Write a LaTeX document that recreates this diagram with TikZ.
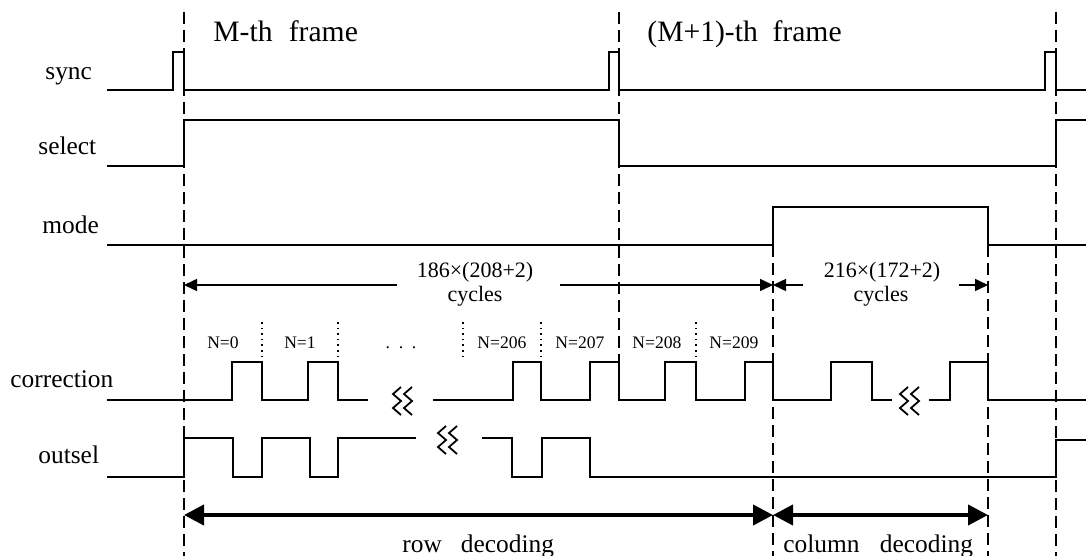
\documentclass[tikz,border=0pt]{standalone}
\usepackage{fontspec}
\setmainfont{Liberation Serif}
\usetikzlibrary{arrows.meta}
\begin{document}
\begin{tikzpicture}[x=0.5pt,y=-0.5pt,
  sig/.style={line width=1.2pt, line join=miter},
  sigb/.style={line width=1.4pt, line join=miter},
  dsh/.style={line width=0.7pt, dash pattern=on 6pt off 3pt},
  dots/.style={line width=0.8pt, dash pattern=on 0.8pt off 2pt},
  dimarr/.style={line width=0.8pt, -{Triangle[length=6.5pt,width=6pt]}},
  bigarr/.style={line width=2pt, {Triangle[length=10pt,width=10pt]}-{Triangle[length=10pt,width=10pt]}},
  sq/.style={line width=0.9pt},
  lbl/.style={anchor=base west, inner sep=0pt, font=\fontsize{12.7}{14}\selectfont},
  frm/.style={anchor=base west, inner sep=0pt, font=\fontsize{14.8}{17}\selectfont},
  cyc/.style={anchor=base, inner sep=0pt, font=\fontsize{11}{13}\selectfont},
  nlb/.style={anchor=base, inner sep=0pt, font=\fontsize{8.8}{10}\selectfont},
  squig/.pic={
    \draw[sq] (4,-14) -- (-4,-7) -- (4,0) -- (-4,7) -- (4,14);
    \draw[sq] (15,-14) -- (7,-7) -- (15,0) -- (7,7) -- (15,14);
  }]
\useasboundingbox (0,0) rectangle (1086,556);

% dashed frame / phase boundaries
\coordinate (d1t) at (184,12);  \coordinate (d1b) at (184,556);
\coordinate (d2t) at (619,12);  \coordinate (d2b) at (619,400);
\coordinate (d3t) at (773,245); \coordinate (d3b) at (773,556);
\coordinate (d4t) at (988,245); \coordinate (d4b) at (988,556);
\coordinate (d5t) at (1056,12); \coordinate (d5b) at (1056,556);
\draw[dsh] (d1t) -- (d1b);
\draw[dsh] (d2t) -- (d2b);
\draw[dsh] (d3t) -- (d3b);
\draw[dsh] (d4t) -- (d4b);
\draw[dsh] (d5t) -- (d5b);

% frame titles
\node[frm] (fm) at (213,42) {M-th\hspace{0.55em}frame};
\node[frm] (fm1) at (647,42) {(M+1)-th\hspace{0.5em}frame};

% signal names
\node[lbl] (lsync) at (45,80) {sync};
\node[lbl] (lsel) at (38,155) {select};
\node[lbl] (lmode) at (42,233) {mode};
\node[lbl] (lcor) at (10,387) {correction};
\node[lbl] (lout) at (38,463) {outsel};

% sync
\draw[sig] (107,90) -- (173,90) -- (173,52) -- (184,52) -- (184,90) -- (609,90)
  -- (609,52) -- (619,52) -- (619,90) -- (1045,90) -- (1045,52) -- (1056,52)
  -- (1056,90) -- (1086,90);
% select
\draw[sig] (107,166) -- (184,166) -- (184,120) -- (619,120) -- (619,166)
  -- (1056,166) -- (1056,120) -- (1086,120);
% mode
\draw[sig] (107,245) -- (773,245) -- (773,207) -- (988,207) -- (988,245) -- (1086,245);

% cycle counts
\coordinate (a1s) at (397,285); \coordinate (a1e) at (184,285);
\coordinate (a2s) at (560,285); \coordinate (a2e) at (773,285);
\coordinate (a3s) at (803,285); \coordinate (a3e) at (773,285);
\coordinate (a4s) at (959,285); \coordinate (a4e) at (988,285);
\draw[dimarr] (a1s) -- (a1e);
\draw[dimarr] (a2s) -- (a2e);
\draw[dimarr] (a3s) -- (a3e);
\draw[dimarr] (a4s) -- (a4e);
\node[cyc] (c1a) at (475,277) {186×(208+2)};
\node[cyc] (c1b) at (475,301) {cycles};
\node[cyc] (c2a) at (882,277) {216×(172+2)};
\node[cyc] (c2b) at (881,301) {cycles};

% N labels and separators
\node[nlb] (n0) at (223,348) {N=0};
\node[nlb] (n1) at (300,348) {N=1};
\node[nlb] (ndots) at (401,348) {.\hspace{0.5em}.\hspace{0.5em}.};
\node[nlb] (n206) at (502,348) {N=206};
\node[nlb] (n207) at (580,348) {N=207};
\node[nlb] (n208) at (657,348) {N=208};
\node[nlb] (n209) at (734,348) {N=209};
\foreach \x in {262,338,463,541,696}
  \draw[dots] (\x,322) -- (\x,361);

% correction
\draw[sigb] (107,400) -- (232,400) -- (232,362) -- (262,362) -- (262,400) -- (308,400)
  -- (308,362) -- (338,362) -- (338,400) -- (368,400);
\draw[sigb] (433,400) -- (513,400) -- (513,362) -- (541,362) -- (541,400) -- (590,400)
  -- (590,362) -- (619,362) -- (619,400) -- (665,400) -- (665,362) -- (696,362)
  -- (696,400) -- (745,400) -- (745,362) -- (773,362) -- (773,400) -- (831,400)
  -- (831,362) -- (872,362) -- (872,400) -- (892,400);
\draw[sigb] (929,400) -- (950,400) -- (950,362) -- (988,362) -- (988,400) -- (1086,400);
\pic at (397,401) {squig};
\pic at (904,401) {squig};

% outsel
\draw[sigb] (107,477) -- (184,477) -- (184,438) -- (233,438) -- (233,477) -- (262,477)
  -- (262,438) -- (310,438) -- (310,477) -- (338,477) -- (338,438) -- (416,438);
\draw[sigb] (482,438) -- (512,438) -- (512,477) -- (542,477) -- (542,438) -- (590,438)
  -- (590,477) -- (1056,477) -- (1056,440) -- (1086,440);
\pic at (442,440) {squig};

% decoding phases
\coordinate (r1) at (184,515); \coordinate (r2) at (773,515);
\coordinate (c1) at (773,515); \coordinate (c2) at (988,515);
\draw[bigarr] (r1) -- (r2);
\draw[bigarr] (c1) -- (c2);
\node[lbl] (rowdec) at (402,552) {row\hspace{0.75em}decoding};
\node[lbl] (coldec) at (783,552) {column\hspace{0.8em}decoding};
\end{tikzpicture}
\end{document}
